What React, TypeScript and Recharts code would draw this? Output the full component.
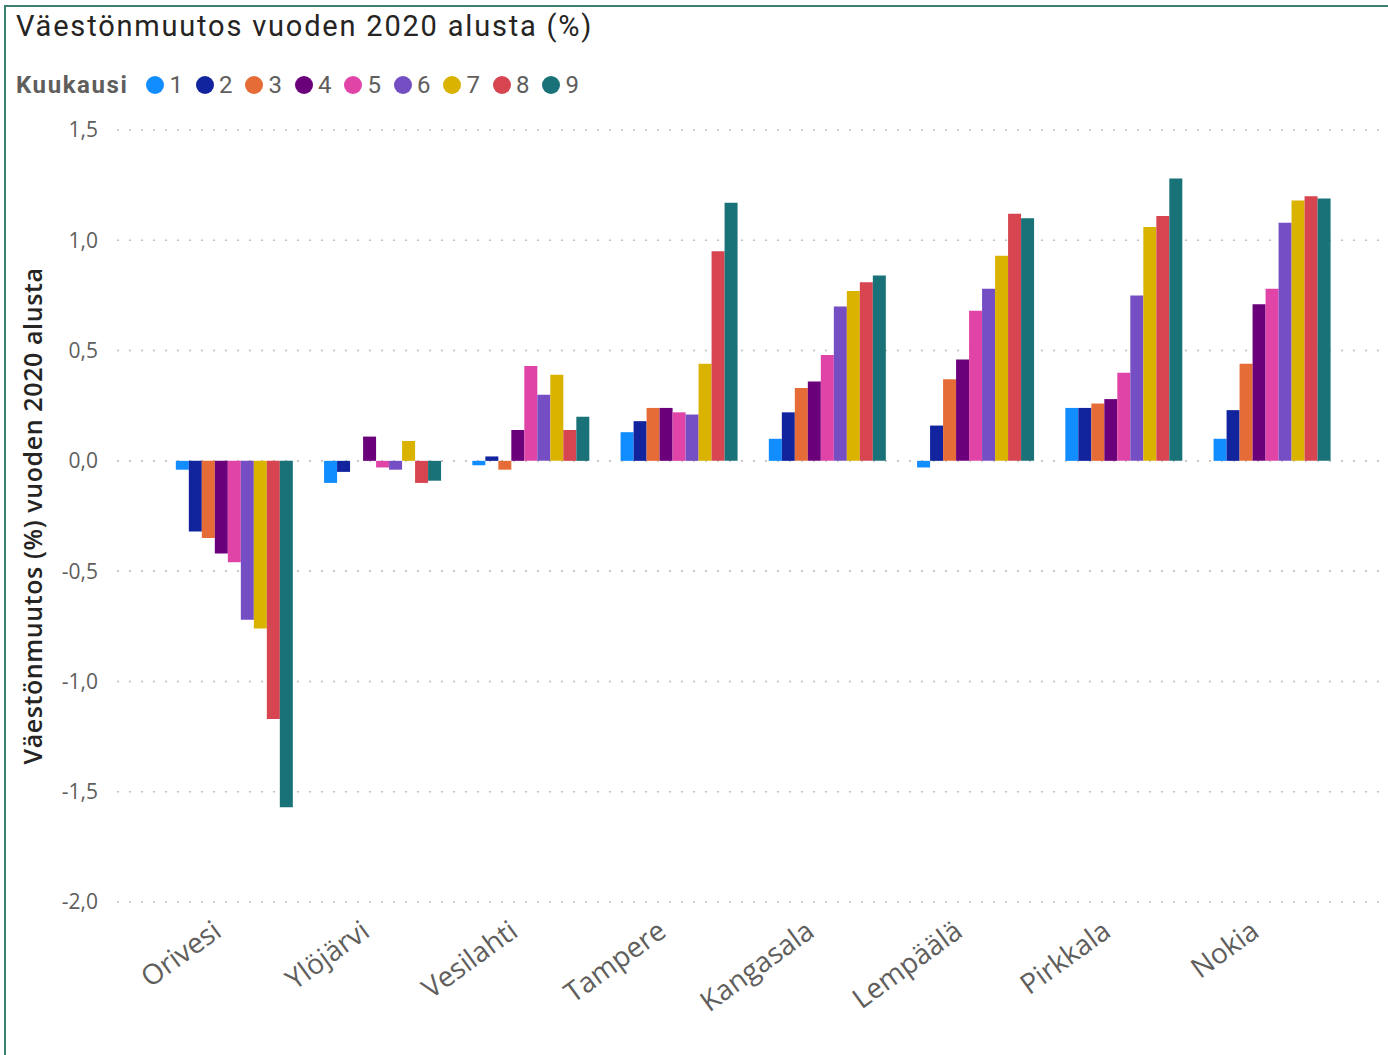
import { BarChart, Bar, XAxis, YAxis, CartesianGrid } from 'recharts';

const kunnat = ['Orivesi', 'Ylöjärvi', 'Vesilahti', 'Tampere', 'Kangasala', 'Lempäälä', 'Pirkkala', 'Nokia'];
const kuukaudet = ['1', '2', '3', '4', '5', '6', '7', '8', '9'];

// muutos-% per kuukausi, kunnat samassa järjestyksessä
const kk1 = [-0.04, -0.1, -0.02, 0.13, 0.1, -0.03, 0.24, 0.1];
const kk2 = [-0.32, -0.05, 0.02, 0.18, 0.22, 0.16, 0.24, 0.23];
const kk3 = [-0.35, 0.0, -0.04, 0.24, 0.33, 0.37, 0.26, 0.44];
const kk4 = [-0.42, 0.11, 0.14, 0.24, 0.36, 0.46, 0.28, 0.71];
const kk5 = [-0.46, -0.03, 0.43, 0.22, 0.48, 0.68, 0.4, 0.78];
const kk6 = [-0.72, -0.04, 0.3, 0.21, 0.7, 0.78, 0.75, 1.08];
const kk7 = [-0.76, 0.09, 0.39, 0.44, 0.77, 0.93, 1.06, 1.18];
const kk8 = [-1.17, -0.1, 0.14, 0.95, 0.81, 1.12, 1.11, 1.2];
const kk9 = [-1.57, -0.09, 0.2, 1.17, 0.84, 1.1, 1.28, 1.19];

const yTicks = [-2, -1.5, -1, -0.5, 0, 0.5, 1, 1.5];

const sarjat = [kk1, kk2, kk3, kk4, kk5, kk6, kk7, kk8, kk9];
const varit = ['#118DFF', '#12239E', '#E66C37', '#6B007B', '#E044A7', '#744EC2', '#D9B300', '#D64550', '#197278'];

const data = kunnat.map((k, i) => {
  const row: Record<string, string | number> = { kunta: k };
  kuukaudet.forEach((m, j) => {
    row['m' + m] = sarjat[j][i];
  });
  return row;
});

const fmt = (v: number) => v.toFixed(1).replace('.', ',');

const KuntaTick = ({ x, y, payload }: any) => (
  <g transform={`translate(${x - 12},${y + 25})`}>
    <text
      textAnchor="end"
      transform="rotate(-36)"
      fill="#605E5C"
      fontSize={28}
      fontFamily="'Open Sans', sans-serif"
    >
      {payload.value}
    </text>
  </g>
);

export default function App() {
  return (
    <div style={{ position: 'relative', width: 1388, height: 1055, background: '#fff', overflow: 'hidden' }}>
      <style>{'body{margin:0}'}</style>
      <div style={{ position: 'absolute', left: 4, top: 5, right: 0, height: 0, borderTop: '2px solid #3B7F70' }} />
      <div style={{ position: 'absolute', left: 4, top: 5, bottom: 0, width: 0, borderLeft: '2px solid #3B7F70' }} />
      <div
        style={{
          position: 'absolute',
          left: 16,
          top: 9,
          fontFamily: 'Roboto, sans-serif',
          fontSize: 29,
          letterSpacing: 1.8,
          color: '#252423',
          whiteSpace: 'nowrap',
        }}
      >
        Väestönmuutos vuoden 2020 alusta (%)
      </div>
      <div
        style={{
          position: 'absolute',
          left: 16,
          top: 71,
          display: 'flex',
          alignItems: 'center',
          fontFamily: 'Roboto, sans-serif',
          fontSize: 24,
          color: '#605E5C',
          whiteSpace: 'nowrap',
        }}
      >
        <span style={{ fontWeight: 700, marginRight: 18, letterSpacing: 1.6 }}>Kuukausi</span>
        {kuukaudet.map((m, j) => (
          <span key={m} style={{ display: 'flex', alignItems: 'center', marginRight: 13 }}>
            <span
              style={{ width: 18, height: 18, borderRadius: 9, background: varit[j], marginRight: 5, display: 'inline-block' }}
            />
            {m}
          </span>
        ))}
      </div>
      <div
        style={{
          position: 'absolute',
          left: 32,
          top: 516,
          transform: 'translate(-50%,-50%) rotate(-90deg)',
          fontFamily: "'Open Sans', sans-serif",
          fontWeight: 600,
          fontSize: 25,
          letterSpacing: 0.6,
          color: '#252423',
          whiteSpace: 'nowrap',
        }}
      >
        Väestönmuutos (%) vuoden 2020 alusta
      </div>
      <div style={{ position: 'absolute', left: 0, top: 0 }}>
        <BarChart
          width={1388}
          height={1055}
          data={data}
          margin={{ top: 130, right: 0, bottom: 0, left: 0 }}
          barGap={0}
          barCategoryGap="10%"
        >
          <CartesianGrid vertical={false} stroke="#C3C1BF" strokeWidth={1.6} strokeDasharray="2 10" />
          <XAxis
            dataKey="kunta"
            axisLine={false}
            tickLine={false}
            interval={0}
            height={153}
            padding={{ left: 44, right: 41 }}
            tick={<KuntaTick />}
          />
          <YAxis
            width={117}
            domain={[-2, 1.5]}
            ticks={yTicks}
            axisLine={false}
            tickLine={false}
            tickSize={0}
            tickMargin={19}
            tickFormatter={fmt}
            tick={{ fill: '#605E5C', fontSize: 21, fontFamily: "'Open Sans', sans-serif" }}
          />
          {kuukaudet.map((m, j) => (
            <Bar key={m} dataKey={'m' + m} fill={varit[j]} isAnimationActive={false} />
          ))}
        </BarChart>
      </div>
    </div>
  );
}
